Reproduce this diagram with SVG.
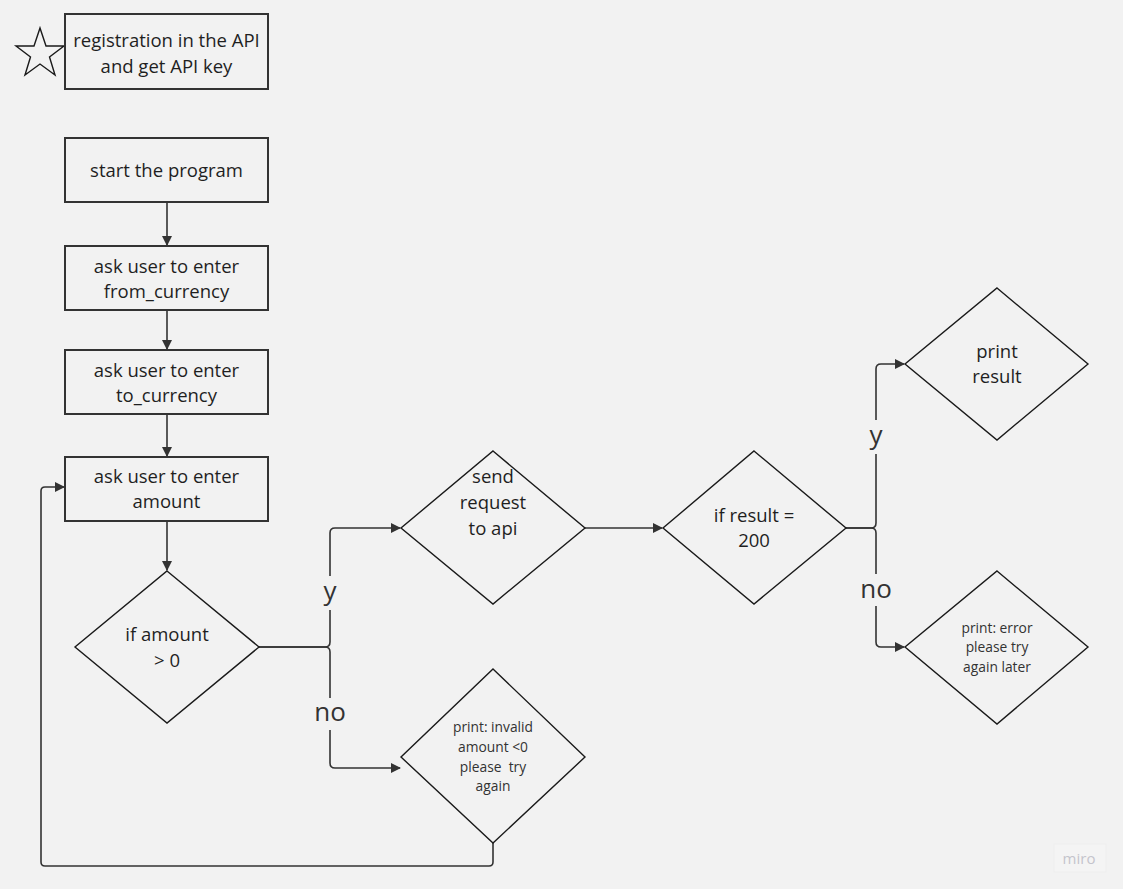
<svg xmlns="http://www.w3.org/2000/svg" width="1123" height="889" viewBox="0 0 1123 889">
  <style>
    .shape { fill: none; stroke: #1a1a1a; stroke-width: 1.4; }
    .box { fill: #f2f2f2; stroke: #333333; stroke-width: 2; }
    .txt { font-family: "Open Sans", "Noto Sans", sans-serif; font-size: 18.5px; fill: #1f1f1f; text-anchor: middle; white-space: pre; }
    .small { font-size: 13.8px; fill: #333333; }
    .edge { fill: none; stroke: #333333; stroke-width: 1.6; }
    .lbl { font-family: "Open Sans", "Noto Sans", sans-serif; font-size: 26px; fill: #333333; text-anchor: middle; }
    .lblbg { fill: #f2f2f2; }
  </style>
  <defs>
    <marker id="arrow" viewBox="0 0 10 10" refX="9" refY="5" markerWidth="10" markerHeight="10" markerUnits="userSpaceOnUse" orient="auto">
      <path d="M0,0 L10,5 L0,10 z" fill="#333333"/>
    </marker>
  </defs>

  <rect width="1123" height="889" fill="#f2f2f2"/>

  <!-- connectors -->
  <g id="connectors">
    <path class="edge" d="M167,202 V245" marker-end="url(#arrow)"/>
    <path class="edge" d="M167,310 V349" marker-end="url(#arrow)"/>
    <path class="edge" d="M167,414 V456" marker-end="url(#arrow)"/>
    <path class="edge" d="M167,521 V570" marker-end="url(#arrow)"/>
    <!-- amount check: yes / no -->
    <path class="edge" d="M259,647 H325 Q330,647 330,642 V533 Q330,528 335,528 H400" marker-end="url(#arrow)"/>
    <path class="edge" d="M259,647 H325 Q330,647 330,652 V763 Q330,768 335,768 H400" marker-end="url(#arrow)"/>
    <!-- request to result check -->
    <path class="edge" d="M585,528 H662" marker-end="url(#arrow)"/>
    <!-- result check: yes / no -->
    <path class="edge" d="M846,528 H871 Q876,528 876,523 V369 Q876,364 881,364 H904" marker-end="url(#arrow)"/>
    <path class="edge" d="M846,528 H871 Q876,528 876,533 V642 Q876,647 881,647 H904" marker-end="url(#arrow)"/>
    <!-- retry loop -->
    <path class="edge" d="M493,843 V862 Q493,866 489,866 H45 Q41,866 41,862 V491 Q41,487 45,487 H64" marker-end="url(#arrow)"/>

    <!-- branch labels -->
    <rect class="lblbg" x="318" y="576" width="24" height="34"/>
    <text class="lbl" x="330" y="600">y</text>
    <rect class="lblbg" x="312" y="698" width="36" height="32"/>
    <text class="lbl" x="330" y="721">no</text>
    <rect class="lblbg" x="864" y="420" width="24" height="34"/>
    <text class="lbl" x="876" y="444">y</text>
    <rect class="lblbg" x="858" y="574" width="36" height="32"/>
    <text class="lbl" x="876" y="598">no</text>
  </g>

  <!-- star marker -->
  <g id="star">
    <polygon class="shape" points="40,28 46,46 64,46 49.5,57 55,75 40,64 25,75 30.5,57 16,46 34,46"/>
  </g>

  <g id="registration">
    <rect class="box" x="65" y="14" width="203" height="75"/>
    <text class="txt" x="166.5" y="47">registration in the API</text>
    <text class="txt" x="166.5" y="73">and get API key</text>
  </g>

  <g id="start">
    <rect class="box" x="65" y="138" width="203" height="64"/>
    <text class="txt" x="166.5" y="177">start the program</text>
  </g>

  <g id="from-currency">
    <rect class="box" x="65" y="246" width="203" height="64"/>
    <text class="txt" x="166.5" y="273">ask user to enter</text>
    <text class="txt" x="166.5" y="298">from_currency</text>
  </g>

  <g id="to-currency">
    <rect class="box" x="65" y="350" width="203" height="64"/>
    <text class="txt" x="166.5" y="377">ask user to enter</text>
    <text class="txt" x="166.5" y="402">to_currency</text>
  </g>

  <g id="amount">
    <rect class="box" x="65" y="457" width="203" height="64"/>
    <text class="txt" x="166.5" y="483">ask user to enter</text>
    <text class="txt" x="166.5" y="508">amount</text>
  </g>

  <g id="check-amount">
    <polygon class="shape" points="167,571 259,647 167,723 75,647"/>
    <text class="txt" x="167" y="641">if amount</text>
    <text class="txt" x="167" y="667">&gt; 0</text>
  </g>

  <g id="send-request">
    <polygon class="shape" points="493,451 585,528 493,604 401,528"/>
    <text class="txt" x="493" y="483">send</text>
    <text class="txt" x="493" y="509">request</text>
    <text class="txt" x="493" y="535">to api</text>
  </g>

  <g id="invalid-amount">
    <polygon class="shape" points="493,669 585,757 493,843 401,757"/>
    <text class="txt small" x="493" y="732">print: invalid</text>
    <text class="txt small" x="493" y="752">amount &lt;0</text>
    <text class="txt small" x="493" y="772">please  try</text>
    <text class="txt small" x="493" y="791">again</text>
  </g>

  <g id="check-result">
    <polygon class="shape" points="754,451 846,528 754,604 663,528"/>
    <text class="txt" x="754" y="522">if result =</text>
    <text class="txt" x="754" y="547">200</text>
  </g>

  <g id="print-result">
    <polygon class="shape" points="997,288 1088,364 997,440 905,364"/>
    <text class="txt" x="997" y="358">print</text>
    <text class="txt" x="997" y="383">result</text>
  </g>

  <g id="print-error">
    <polygon class="shape" points="997,571 1088,647 997,724 905,647"/>
    <text class="txt small" x="997" y="633">print: error</text>
    <text class="txt small" x="997" y="652">please try</text>
    <text class="txt small" x="997" y="672">again later</text>
  </g>

  <g id="watermark">
    <rect x="1054" y="844" width="52" height="28" fill="#f4f4f4" stroke="#eeeeee" stroke-width="1"/>
    <text x="1079" y="864" font-family="Open Sans, sans-serif" font-size="15" fill="#c4c4cc" text-anchor="middle">miro</text>
  </g>
</svg>
